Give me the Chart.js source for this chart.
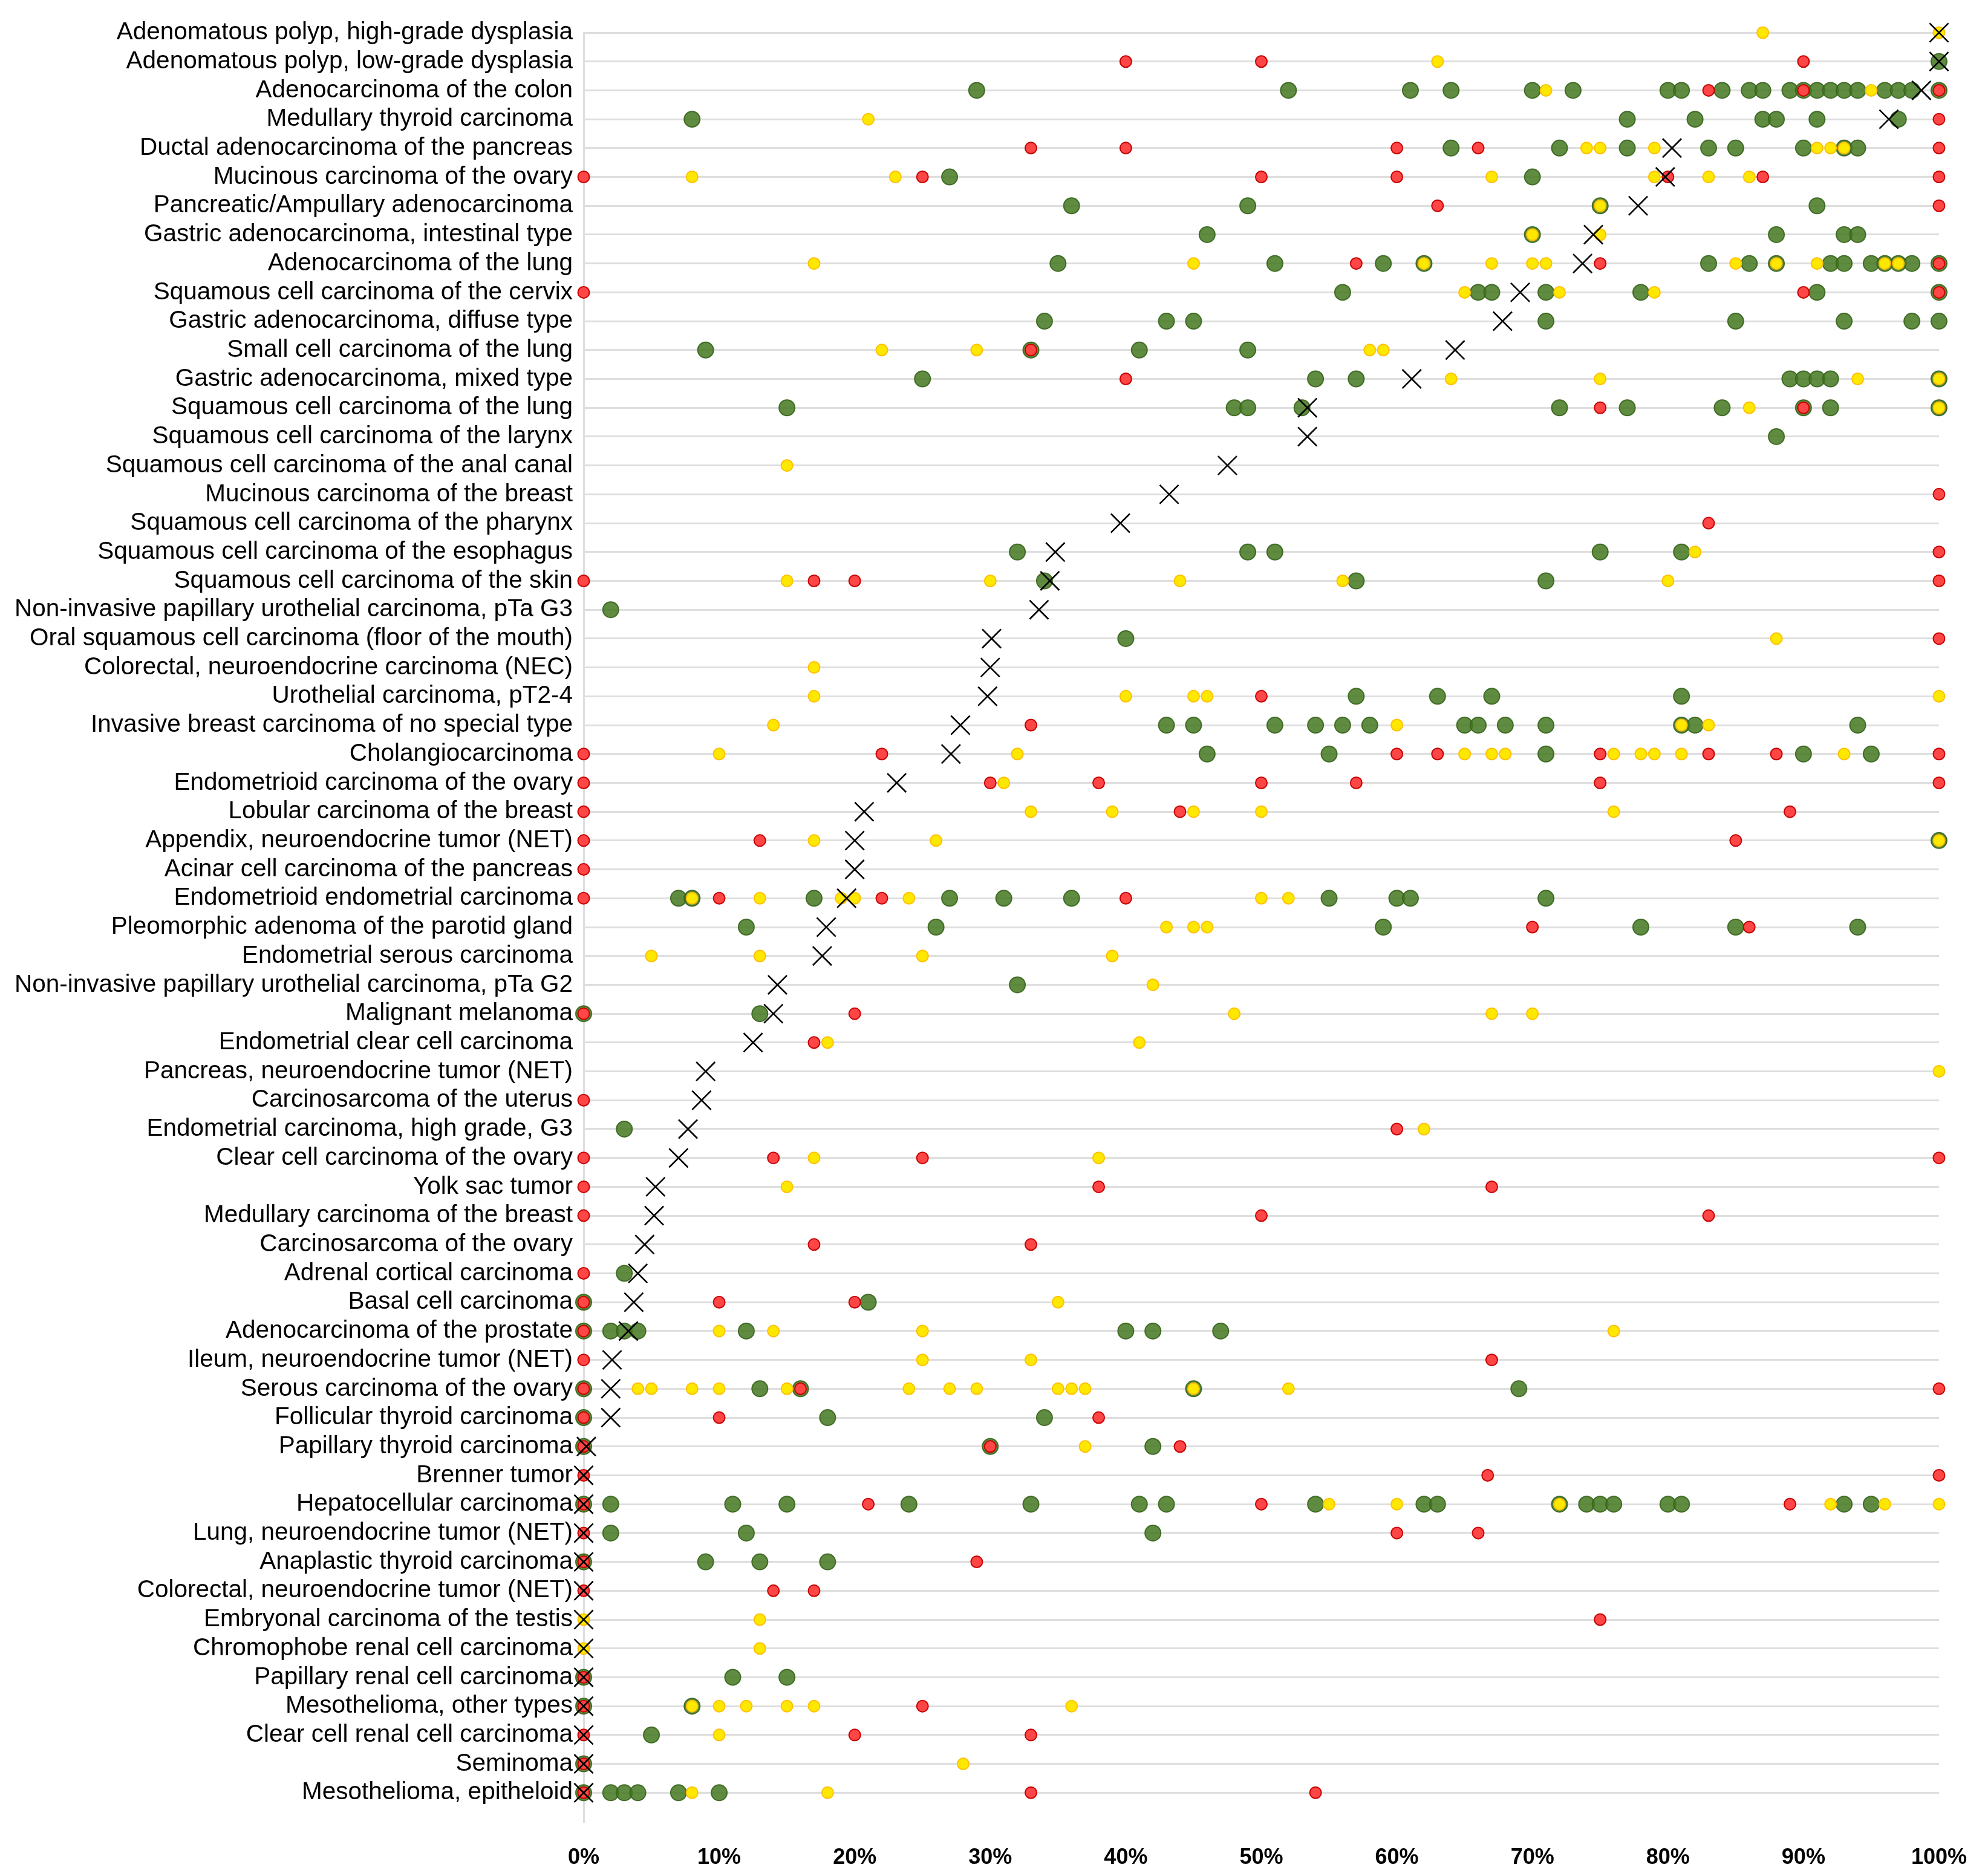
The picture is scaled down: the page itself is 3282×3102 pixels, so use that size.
<!DOCTYPE html>
<html><head><meta charset="utf-8">
<script src="https://cdn.jsdelivr.net/npm/chart.js@4/dist/chart.umd.min.js"></script>
<style>html,body{margin:0;padding:0;background:#fff}canvas{display:block}</style>
</head><body>
<canvas id="c" width="3282" height="3102" style="width:3282px;height:3102px"></canvas>
<script>
const categories = [
"Adenomatous polyp, high-grade dysplasia",
"Adenomatous polyp, low-grade dysplasia",
"Adenocarcinoma of the colon",
"Medullary thyroid carcinoma",
"Ductal adenocarcinoma of the pancreas",
"Mucinous carcinoma of the ovary",
"Pancreatic/Ampullary adenocarcinoma",
"Gastric adenocarcinoma, intestinal type",
"Adenocarcinoma of the lung",
"Squamous cell carcinoma of the cervix",
"Gastric adenocarcinoma, diffuse type",
"Small cell carcinoma of the lung",
"Gastric adenocarcinoma, mixed type",
"Squamous cell carcinoma of the lung",
"Squamous cell carcinoma of the larynx",
"Squamous cell carcinoma of the anal canal",
"Mucinous carcinoma of the breast",
"Squamous cell carcinoma of the pharynx",
"Squamous cell carcinoma of the esophagus",
"Squamous cell carcinoma of the skin",
"Non-invasive papillary urothelial carcinoma, pTa G3",
"Oral squamous cell carcinoma (floor of the mouth)",
"Colorectal, neuroendocrine carcinoma (NEC)",
"Urothelial carcinoma, pT2-4",
"Invasive breast carcinoma of no special type",
"Cholangiocarcinoma",
"Endometrioid carcinoma of the ovary",
"Lobular carcinoma of the breast",
"Appendix, neuroendocrine tumor (NET)",
"Acinar cell carcinoma of the pancreas",
"Endometrioid endometrial carcinoma",
"Pleomorphic adenoma of the parotid gland",
"Endometrial serous carcinoma",
"Non-invasive papillary urothelial carcinoma, pTa G2",
"Malignant melanoma",
"Endometrial clear cell carcinoma",
"Pancreas, neuroendocrine tumor (NET)",
"Carcinosarcoma of the uterus",
"Endometrial carcinoma, high grade, G3",
"Clear cell carcinoma of the ovary",
"Yolk sac tumor",
"Medullary carcinoma of the breast",
"Carcinosarcoma of the ovary",
"Adrenal cortical carcinoma",
"Basal cell carcinoma",
"Adenocarcinoma of the prostate",
"Ileum, neuroendocrine tumor (NET)",
"Serous carcinoma of the ovary",
"Follicular thyroid carcinoma",
"Papillary thyroid carcinoma",
"Brenner tumor",
"Hepatocellular carcinoma",
"Lung, neuroendocrine tumor (NET)",
"Anaplastic thyroid carcinoma",
"Colorectal, neuroendocrine tumor (NET)",
"Embryonal carcinoma of the testis",
"Chromophobe renal cell carcinoma",
"Papillary renal cell carcinoma",
"Mesothelioma, other types",
"Clear cell renal cell carcinoma",
"Seminoma",
"Mesothelioma, epitheloid"
];

const meanValues = [100,100,98.7,96.3,80.3,79.8,77.8,74.5,73.7,69.1,67.8,64.3,61.1,53.4,53.4,47.5,43.2,39.6,34.8,34.4,33.6,30.1,30.0,29.8,27.8,27.1,23.1,20.7,20.0,20.0,19.4,17.9,17.6,14.3,14.0,12.5,9.0,8.7,7.7,7.0,5.3,5.2,4.5,4.0,3.7,3.3,2.1,2.0,2.0,0.2,0,0,0,0,0,0,0,0,0,0,0,0];

const greenValues = [
[],
[100],
[29,52,61,64,70,73,80,81,84,86,87,89,90,91,92,93,94,96,97,98,100],
[8,77,82,87,88,91,97],
[64,72,77,83,85,90,93,94],
[27,70],
[36,49,75,91],
[46,70,88,93,94],
[35,51,59,62,83,86,88,92,93,95,96,97,98,100],
[56,66,67,71,78,91,100],
[34,43,45,71,85,93,98,100],
[9,33,41,49],
[25,54,57,89,90,91,92,100],
[15,48,49,53,72,77,84,90,92,100],
[88],
[],
[],
[],
[32,49,51,75,81],
[34,57,71],
[2],
[40],
[],
[57,63,67,81],
[43,45,51,54,56,58,65,66,68,71,81,82,94],
[46,55,71,90,95],
[],
[],
[100],
[],
[7,8,17,27,31,36,55,60,61,71],
[12,26,59,78,85,94],
[],
[32],
[0,13],
[],
[],
[],
[3],
[],
[],
[],
[],
[3],
[0,21],
[0,2,3,4,12,40,42,47],
[],
[0,13,16,45,69],
[0,18,34],
[0,30,42],
[],
[0,2,11,15,24,33,41,43,54,62,63,72,74,75,76,80,81,93,95],
[2,12,42],
[0,9,13,18],
[],
[],
[],
[0,11,15],
[0,8],
[5],
[0],
[0,2,3,4,7,10]
];

const yellowValues = [
[87,100],
[63],
[71,95],
[21],
[74,75,79,91,92,93],
[8,23,67,79,83,86],
[75],
[70,75],
[17,45,62,67,70,71,85,88,91,96,97],
[65,72,79],
[],
[22,29,58,59],
[64,75,94,100],
[86,100],
[],
[15],
[],
[],
[82],
[15,30,44,56,80],
[],
[88],
[17],
[17,40,45,46,100],
[14,60,81,83],
[10,32,65,67,68,76,78,79,81,93],
[31],
[33,39,45,50,76],
[17,26,100],
[],
[8,13,19,20,24,50,52],
[43,45,46],
[5,13,25,39],
[42],
[48,67,70],
[18,41],
[100],
[],
[62],
[17,38],
[15],
[],
[],
[],
[35],
[10,14,25,76],
[25,33],
[4,5,8,10,15,24,27,29,35,36,37,45,52],
[],
[37],
[],
[0,55,60,72,92,96,100],
[],
[],
[],
[0,13],
[0,13],
[],
[8,10,12,15,17,36],
[10],
[28],
[8,18]
];

const redValues = [
[],
[40,50,90],
[83,90,100],
[100],
[33,40,60,66,100],
[0,25,50,60,80,87,100],
[63,100],
[],
[57,75,100],
[0,90,100],
[],
[33],
[40],
[75,90],
[],
[],
[100],
[83],
[100],
[0,17,20,100],
[],
[100],
[],
[50],
[33],
[0,22,60,63,75,83,88,100],
[0,30,38,50,57,75,100],
[0,44,89],
[0,13,85],
[0],
[0,10,22,40],
[70,86],
[],
[],
[0,20],
[17],
[],
[0],
[60],
[0,14,25,100],
[0,38,67],
[0,50,83],
[17,33],
[0],
[0,10,20],
[0],
[0,67],
[0,16,100],
[0,10,38],
[0,30,44],
[0,66.7,100],
[0,21,50,89],
[0,60,66],
[0,29],
[0,14,17],
[75],
[],
[0],
[0,25],
[0,20,33],
[0],
[0,33,54]
];

const xTickValues = [0,10,20,30,40,50,60,70,80,90,100];

function toPoints(rows) {
  return rows.flatMap((vals, i) => vals.map(v => ({x: v, y: i})));
}

new Chart(document.getElementById('c').getContext('2d'), {
  type: 'scatter',
  data: {
    datasets: [
      {
        label: 'Mean', data: meanValues.map((v, i) => ({x: v, y: i})),
        pointStyle: 'crossRot', pointRadius: 22, pointHoverRadius: 22,
        pointBorderColor: '#000', pointBackgroundColor: 'rgba(0,0,0,0)', pointBorderWidth: 2.6,
        order: 0, clip: false
      },
      {
        label: 'Red', data: toPoints(redValues),
        pointStyle: 'circle', pointRadius: 9.5, pointHoverRadius: 9.5,
        pointBackgroundColor: '#ff4646', pointBorderColor: '#c80000', pointBorderWidth: 2,
        order: 1, clip: false
      },
      {
        label: 'Yellow', data: toPoints(yellowValues),
        pointStyle: 'circle', pointRadius: 9.5, pointHoverRadius: 9.5,
        pointBackgroundColor: '#ffe800', pointBorderColor: '#ffc000', pointBorderWidth: 2,
        order: 2, clip: false
      },
      {
        label: 'Green', data: toPoints(greenValues),
        pointStyle: 'circle', pointRadius: 13, pointHoverRadius: 13,
        pointBackgroundColor: 'rgba(67,120,32,0.85)', pointBorderColor: 'rgba(55,100,28,0.9)', pointBorderWidth: 2,
        order: 3, clip: false
      }
    ]
  },
  options: {
    responsive: false,
    animation: false,
    devicePixelRatio: 1,
    layout: {padding: {top: 54, right: 72, bottom: 0, left: 0}},
    plugins: {legend: {display: false}, tooltip: {enabled: false}},
    scales: {
      x: {
        type: 'linear', min: 0, max: 100,
        afterBuildTicks: s => { s.ticks = xTickValues.map(v => ({value: v})); },
        afterFit: s => { s.height = 90; },
        ticks: {
          callback: v => v + '%',
          font: {family: 'Liberation Sans', size: 36, weight: 'bold'},
          color: '#000', padding: 30, maxRotation: 0
        },
        grid: {display: false},
        border: {display: false}
      },
      y: {
        type: 'linear', reverse: true, min: 0, max: 62,
        afterBuildTicks: s => { s.ticks = categories.map((c, i) => ({value: i})); },
        afterFit: s => { s.width = 965; },
        ticks: {
          autoSkip: false,
          callback: v => categories[v] ?? '',
          font: {family: 'Liberation Sans', size: 40.5},
          color: '#000', padding: 18
        },
        grid: {color: '#dedede', lineWidth: 3, drawTicks: false},
        border: {display: true, color: '#dedede', width: 3}
      }
    }
  }
});
</script>
</body></html>
